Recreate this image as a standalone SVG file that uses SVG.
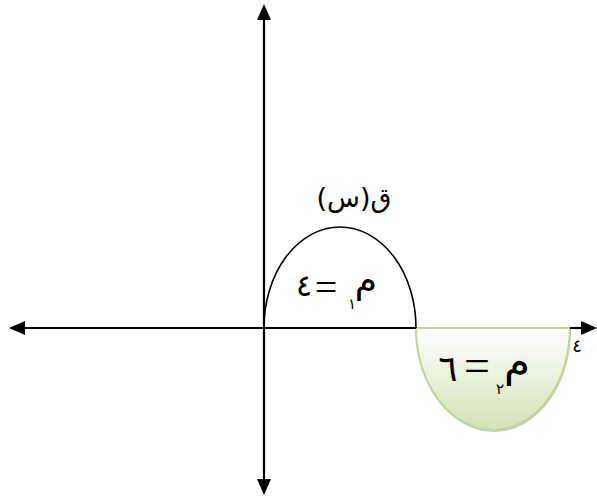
<svg xmlns="http://www.w3.org/2000/svg" width="597" height="499" viewBox="0 0 597 499">
<style>
.ax{stroke:#000;stroke-width:2.2;fill:none}
.ar{font-family:"DejaVu Sans",sans-serif;fill:#000}
.eq{font-family:"Liberation Serif",serif;fill:#000}
</style>
<defs>
<marker id="arr" viewBox="0 0 16 14" refX="1" refY="7" markerWidth="16" markerHeight="14" markerUnits="userSpaceOnUse" orient="auto-start-reverse">
<path d="M0,0 L16,7 L0,14 z" fill="#000"/>
</marker>
<linearGradient id="gfill" x1="0" y1="0" x2="0" y2="1">
<stop offset="0" stop-color="#ffffff"/>
<stop offset="1" stop-color="#d4e2b6"/>
</linearGradient>
<linearGradient id="gline" x1="0" y1="0" x2="1" y2="0">
<stop offset="0" stop-color="#444"/>
<stop offset="1" stop-color="#fff"/>
</linearGradient>
</defs>
<rect width="597" height="499" fill="#fff"/>
<g id="area2">
<path d="M417,330 A77,102 0 0 0 571,330 Z" fill="#a9ba8c" opacity="0.7"/>
<path d="M416,328 A77,102 0 0 0 570,328 Z" fill="url(#gfill)" stroke="#c3d69b" stroke-width="2.2"/>
</g>
<g id="connectors">
<line class="ax" x1="264" y1="19" x2="264" y2="480" marker-start="url(#arr)" marker-end="url(#arr)"/>
<line class="ax" x1="24" y1="328" x2="416" y2="328" marker-start="url(#arr)"/>
<line x1="417" y1="328" x2="472" y2="328" stroke="url(#gline)" stroke-width="1.5"/>
<line class="ax" x1="570" y1="328" x2="582" y2="328" marker-end="url(#arr)"/>
</g>
<g id="area1">
<path d="M264,328 A76,101 0 0 1 416,328" fill="none" stroke="#000" stroke-width="1.6"/>
</g>
<g id="func-label">
<text class="ar" x="354" y="207" font-size="27" text-anchor="middle" direction="rtl">ق(س)</text>
</g>
<g id="label1">
<text class="ar" x="304" y="296" font-size="30" text-anchor="middle">٤</text>
<text class="eq" x="326" y="301" font-size="40" text-anchor="middle">=</text>
<text class="ar" x="352" y="309" font-size="15" text-anchor="middle">١</text>
<text class="ar" x="366" y="292" font-size="36" text-anchor="middle">م</text>
</g>
<g id="label2">
<text class="ar" x="448" y="381" font-size="36" text-anchor="middle">٦</text>
<text class="eq" x="477" y="381" font-size="46" text-anchor="middle">=</text>
<text class="ar" x="500" y="394" font-size="15" text-anchor="middle">٢</text>
<text class="ar" x="517" y="376" font-size="42" text-anchor="middle">م</text>
</g>
<g id="tick-label">
<text class="ar" x="577" y="352" font-size="18" text-anchor="middle">٤</text>
</g>
</svg>
